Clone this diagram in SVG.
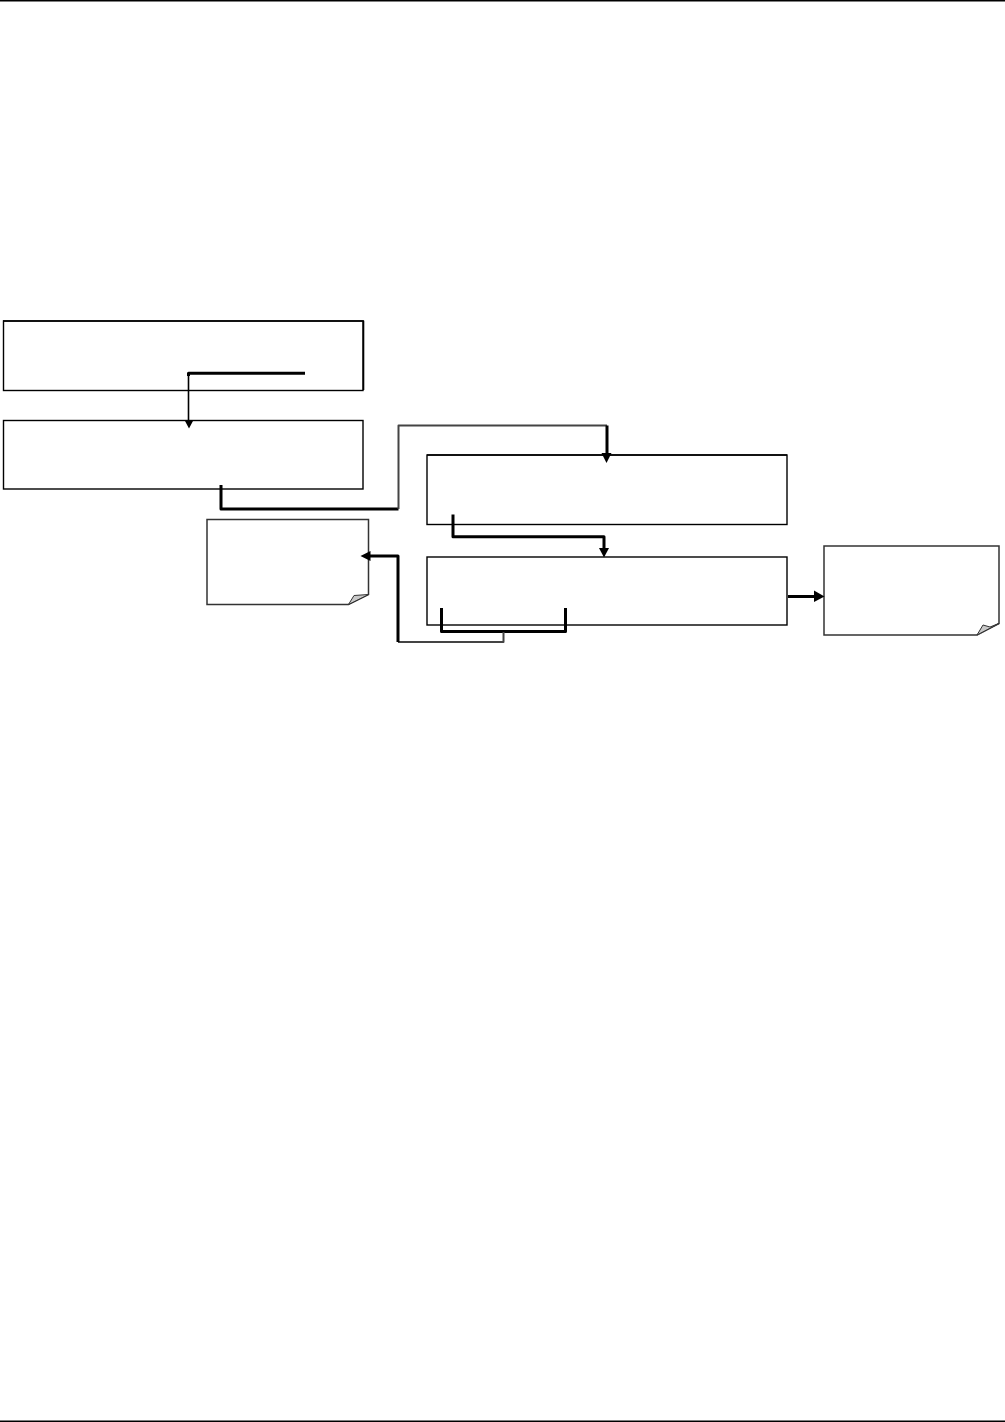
<svg xmlns="http://www.w3.org/2000/svg" width="1005" height="1422" viewBox="0 0 1005 1422">
<style>
.bg{fill:#fff}
.box{fill:#fff;stroke:#000;stroke-width:1.4}
.note{fill:#fff;stroke:#333;stroke-width:1.5}
.fold{fill:#c8c8c8;stroke:#333;stroke-width:1}
.rule{stroke:#000;stroke-width:1.5;fill:none}
.c{fill:none;stroke:#000;stroke-linejoin:round}
.t{stroke-width:3}
.m{stroke-width:1.6}
.g{stroke:#444;stroke-width:2}
.tip{fill:#000;stroke:none}
</style>
<rect class="bg" width="1005" height="1422"/>
<path class="rule" d="M0 0.7H1005M0 1421.3H1005"/>
<g id="box1"><rect class="box" x="3.500" y="321" width="359.500" height="69.500"/><path d="M3 321H363.500V390" class="c m"/></g>
<g id="box2"><rect class="box" x="3.500" y="420.500" width="359.500" height="68.500"/></g>
<g id="box3"><rect class="box" x="427" y="455" width="360" height="69.500"/><path d="M427 455H787" class="c m"/></g>
<g id="box4"><rect class="box" x="427" y="557" width="360" height="68"/></g>
<g id="note1"><path class="note" d="M207 519.500H368.500V594.500L348.500 604.500H207Z"/><path class="fold" d="M348.500 604.500L354 595.500L368.500 594.500Z"/></g>
<g id="note2"><path class="note" d="M824 546H999V623.500L977 635H824Z"/><path class="fold" d="M977 635L983 625L990 627L999 623.500Z"/></g>
<g id="connectors">
<path class="c t" d="M305 373.300H188.500V376"/><path class="c m" d="M188.500 374V422"/><path class="tip" d="M184.500 420H193.500L189 428.500Z"/>
<path class="c t" d="M221 485V509H398.500"/><path class="c g" d="M398.500 509V425.500H607"/><path class="c t" d="M607 425.500V456"/><path class="tip" d="M601.500 453H611.500L606.500 463Z"/>
<path class="c t" d="M453 514.500V536.800H604V549"/><path class="tip" d="M599 548H609L604 557.500Z"/>
<path class="c t" d="M441.500 608V631.500H565.500V608"/>
<path class="c g" d="M503.500 632V642H398"/><path class="c t" d="M398 642V556H368"/><path class="tip" d="M370.500 551V561L360.500 556Z"/>
<path class="c t" d="M788 596.500H816"/><path class="tip" d="M814 590.500V602L824.500 596.500Z"/>
</g>
</svg>
